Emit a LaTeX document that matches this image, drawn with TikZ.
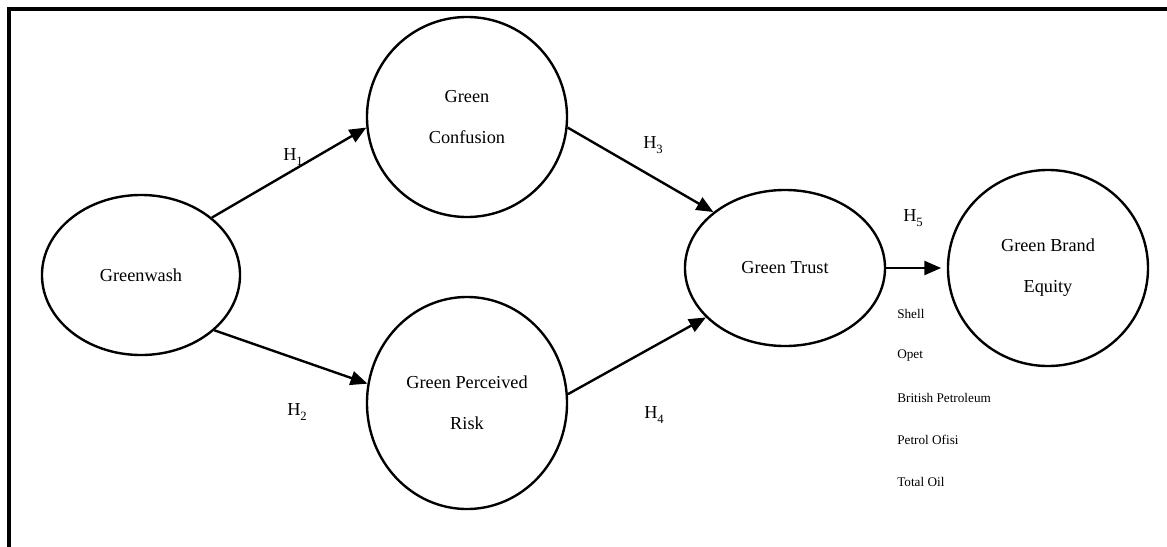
\documentclass[tikz,border=0pt]{standalone}
\usepackage{fontspec}
\setmainfont{Liberation Serif}
\usetikzlibrary{shapes.geometric,arrows.meta}
\newcommand{\hyplabel}[1]{H\raisebox{-4pt}{\fontsize{9}{9}\selectfont #1}}

\begin{document}
\begin{tikzpicture}[x=0.025cm, y=-0.025cm,
      every node/.style={font=\fontsize{13}{29}\selectfont},
      construct/.style={ellipse, draw=black, line width=1.7pt, inner sep=0pt, align=center, minimum width=5cm},
      hyp/.style={line width=1.7pt, -{Triangle[length=12pt, width=10pt]}},
      hlabel/.style={anchor=west, inner sep=0pt},
      firm/.style={anchor=west, inner sep=0pt, font=\fontsize{9.4}{11}\selectfont}
  ]
    \useasboundingbox (0,0) rectangle (1167,547);
    \begin{scope}
      \clip (0,0) rectangle (1167,547);
      \draw[line width=2.2pt] (9,9) rectangle (1180,560);
    \end{scope}

    \node[construct, minimum width=4.95cm, minimum height=4cm] (gw) at (141,275) {Greenwash};
    \node[construct, minimum height=5cm] (conf) at (467,117) {Green\\Confusion};
    \node[construct, minimum height=5.3cm] (risk) at (467,403) {Green Perceived\\Risk};
    \node[construct, minimum height=3.9cm] (trust) at (785,268) {Green Trust};
    \node[construct, minimum height=4.9cm] (gbe) at (1048,268) {Green Brand\\Equity};

    \draw[hyp] (gw.39) -- (conf.186);
    \draw[hyp] (gw.-37) -- (risk.169);
    \draw[hyp] (conf.-6) -- (trust.142);
    \draw[hyp] (risk.5) -- (trust.212);
    \draw[hyp, shorten >=4pt] (trust.east) -- (trust.east -| gbe.west);

    \node[hlabel] (h1) at (283,157) {\hyplabel{1}};
    \node[hlabel] (h2) at (287,412) {\hyplabel{2}};
    \node[hlabel] (h3) at (643,145) {\hyplabel{3}};
    \node[hlabel] (h4) at (644,415) {\hyplabel{4}};
    \node[hlabel] (h5) at (903,218) {\hyplabel{5}};

    \foreach \name [count=\i] in {Shell, Opet, British Petroleum, Petrol Ofisi, Total Oil} {
      \node[firm] (firm\i) at (897,272+42*\i) {\name};
    }
\end{tikzpicture}
\end{document}
